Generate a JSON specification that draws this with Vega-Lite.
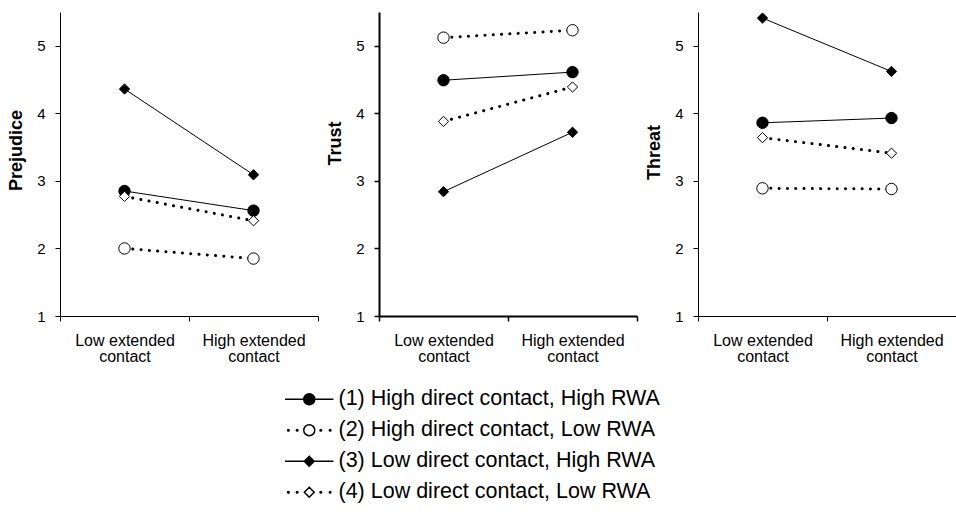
{
  "$schema": "https://vega.github.io/schema/vega-lite/v6.json",
  "padding": {"left": 7, "top": 10, "right": 0, "bottom": 5},
  "config": {
    "font": "Liberation Sans",
    "view": {"stroke": null},
    "axis": {"grid": false, "domainColor": "black", "tickColor": "black", "labelColor": "black", "titleColor": "black"}
  },
  "datasets": {
    "d": [
      {"measure": "Prejudice", "ext": "Low extended contact", "group": "(1) High direct contact, High RWA", "value": 2.85},
      {"measure": "Prejudice", "ext": "High extended contact", "group": "(1) High direct contact, High RWA", "value": 2.56},
      {"measure": "Prejudice", "ext": "Low extended contact", "group": "(2) High direct contact, Low RWA", "value": 2.0},
      {"measure": "Prejudice", "ext": "High extended contact", "group": "(2) High direct contact, Low RWA", "value": 1.85},
      {"measure": "Prejudice", "ext": "Low extended contact", "group": "(3) Low direct contact, High RWA", "value": 4.36},
      {"measure": "Prejudice", "ext": "High extended contact", "group": "(3) Low direct contact, High RWA", "value": 3.09},
      {"measure": "Prejudice", "ext": "Low extended contact", "group": "(4) Low direct contact, Low RWA", "value": 2.77},
      {"measure": "Prejudice", "ext": "High extended contact", "group": "(4) Low direct contact, Low RWA", "value": 2.41},
      {"measure": "Trust", "ext": "Low extended contact", "group": "(1) High direct contact, High RWA", "value": 4.49},
      {"measure": "Trust", "ext": "High extended contact", "group": "(1) High direct contact, High RWA", "value": 4.61},
      {"measure": "Trust", "ext": "Low extended contact", "group": "(2) High direct contact, Low RWA", "value": 5.12},
      {"measure": "Trust", "ext": "High extended contact", "group": "(2) High direct contact, Low RWA", "value": 5.23},
      {"measure": "Trust", "ext": "Low extended contact", "group": "(3) Low direct contact, High RWA", "value": 2.84},
      {"measure": "Trust", "ext": "High extended contact", "group": "(3) Low direct contact, High RWA", "value": 3.72},
      {"measure": "Trust", "ext": "Low extended contact", "group": "(4) Low direct contact, Low RWA", "value": 3.88},
      {"measure": "Trust", "ext": "High extended contact", "group": "(4) Low direct contact, Low RWA", "value": 4.39},
      {"measure": "Threat", "ext": "Low extended contact", "group": "(1) High direct contact, High RWA", "value": 3.86},
      {"measure": "Threat", "ext": "High extended contact", "group": "(1) High direct contact, High RWA", "value": 3.93},
      {"measure": "Threat", "ext": "Low extended contact", "group": "(2) High direct contact, Low RWA", "value": 2.89},
      {"measure": "Threat", "ext": "High extended contact", "group": "(2) High direct contact, Low RWA", "value": 2.88},
      {"measure": "Threat", "ext": "Low extended contact", "group": "(3) Low direct contact, High RWA", "value": 5.41},
      {"measure": "Threat", "ext": "High extended contact", "group": "(3) Low direct contact, High RWA", "value": 4.62},
      {"measure": "Threat", "ext": "Low extended contact", "group": "(4) Low direct contact, Low RWA", "value": 3.64},
      {"measure": "Threat", "ext": "High extended contact", "group": "(4) Low direct contact, Low RWA", "value": 3.41}
    ]
  },
  "data": {"name": "d"},
  "bounds": "flush",
  "spacing": 61,
  "hconcat": [
    {
      "width": 258, "height": 304,
      "transform": [{"filter": "datum.measure == 'Prejudice'"}],
      "encoding": {
        "x": {"field": "ext", "type": "nominal", "sort": ["Low extended contact", "High extended contact"],
          "scale": {"type": "band", "paddingInner": 0, "paddingOuter": 0},
          "axis": {"title": null, "labelAngle": 0, "tickBand": "extent", "tickSize": 5, "labelPadding": 11, "labelFontSize": 16, "labelLineHeight": 16,
            "labelExpr": "datum.label == 'Low extended contact' ? ['Low extended', 'contact'] : datum.label == 'High extended contact' ? ['High extended', 'contact'] : ''"}},
        "y": {"field": "value", "type": "quantitative", "scale": {"domain": [1, 5.5], "nice": false, "zero": false},
          "axis": {"title": "Prejudice", "values": [1, 2, 3, 4, 5], "tickSize": 5, "labelPadding": 10, "labelFontSize": 15, "titleFontSize": 18, "titleFontWeight": "bold", "titlePadding": 11, "titleY": 138}}
      },
      "layer": [
        {"transform": [{"filter": "indexof(datum.group, 'High RWA') >= 0"}],
         "mark": {"type": "line", "color": "black", "strokeWidth": 1}, "encoding": {"detail": {"field": "group"}}},
        {"transform": [{"filter": "indexof(datum.group, 'Low RWA') >= 0"}],
         "mark": {"type": "line", "color": "black", "strokeWidth": 3, "strokeCap": "round", "strokeDash": [0.1, 8.2]}, "encoding": {"detail": {"field": "group"}}},
        {"mark": {"type": "point", "filled": true, "stroke": "black", "strokeWidth": 1, "size": 130, "opacity": 1},
         "encoding": {
           "fill": {"condition": {"test": "indexof(datum.group, 'Low RWA') >= 0", "value": "white"}, "value": "black"},
           "shape": {"condition": {"test": "indexof(datum.group, 'Low direct') >= 0", "value": "M-0.9,0L0,-0.9L0.9,0L0,0.9Z"}, "value": "circle"}
         }},
        {"mark": {"type": "point", "filled": true, "stroke": "black", "strokeWidth": 1, "size": 0, "opacity": 1},
         "encoding": {
           "fill": {"field": "group", "type": "nominal", "scale": {"range": ["black", "white", "black", "white"]}, "legend": null},
           "shape": {"field": "group", "type": "nominal",
             "scale": {"range": [
               "M-4.4,0H-1M1,0H4.4M1,0A1,1,0,1,1,-1,0A1,1,0,1,1,1,0Z",
               "M-3.65,0A0.15,0.15,0,1,1,-3.95,0A0.15,0.15,0,1,1,-3.65,0ZM-2.05,0A0.15,0.15,0,1,1,-2.35,0A0.15,0.15,0,1,1,-2.05,0ZM2.25,0A0.15,0.15,0,1,1,1.95,0A0.15,0.15,0,1,1,2.25,0ZM3.95,0A0.15,0.15,0,1,1,3.65,0A0.15,0.15,0,1,1,3.95,0ZM1,0A1,1,0,1,1,-1,0A1,1,0,1,1,1,0Z",
               "M-4.4,0H-0.9M0.9,0H4.4M-0.9,0L0,-0.9L0.9,0L0,0.9Z",
               "M-3.65,0A0.15,0.15,0,1,1,-3.95,0A0.15,0.15,0,1,1,-3.65,0ZM-2.05,0A0.15,0.15,0,1,1,-2.35,0A0.15,0.15,0,1,1,-2.05,0ZM2.25,0A0.15,0.15,0,1,1,1.95,0A0.15,0.15,0,1,1,2.25,0ZM3.95,0A0.15,0.15,0,1,1,3.65,0A0.15,0.15,0,1,1,3.95,0ZM-0.9,0L0,-0.9L0.9,0L0,0.9Z"
             ]},
             "legend": {"title": null, "orient": "none", "legendX": 238.5, "legendY": 376.5, "padding": 0, "symbolSize": 121, "labelOffset": 18.5, "labelFontSize": 21.5, "labelColor": "black", "rowPadding": 8, "labelLimit": 0}}
         }}
      ]
    },
    {
      "width": 258, "height": 304,
      "transform": [{"filter": "datum.measure == 'Trust'"}],
      "encoding": {
        "x": {"field": "ext", "type": "nominal", "sort": ["Low extended contact", "High extended contact"],
          "scale": {"type": "band", "paddingInner": 0, "paddingOuter": 0},
          "axis": {"title": null, "labelAngle": 0, "tickBand": "extent", "tickSize": 5, "labelPadding": 11, "labelFontSize": 16, "labelLineHeight": 16, "domainWidth": 2, "tickWidth": 1.5,
            "labelExpr": "datum.label == 'Low extended contact' ? ['Low extended', 'contact'] : datum.label == 'High extended contact' ? ['High extended', 'contact'] : ''"}},
        "y": {"field": "value", "type": "quantitative", "scale": {"domain": [1, 5.5], "nice": false, "zero": false},
          "axis": {"title": "Trust", "values": [1, 2, 3, 4, 5], "tickSize": 5, "labelPadding": 10, "labelFontSize": 15, "titleFontSize": 18, "titleFontWeight": "bold", "titlePadding": 11, "titleY": 131, "domainWidth": 2, "tickWidth": 1.5}}
      },
      "layer": [
        {"transform": [{"filter": "indexof(datum.group, 'High RWA') >= 0"}],
         "mark": {"type": "line", "color": "black", "strokeWidth": 1}, "encoding": {"detail": {"field": "group"}}},
        {"transform": [{"filter": "indexof(datum.group, 'Low RWA') >= 0"}],
         "mark": {"type": "line", "color": "black", "strokeWidth": 3, "strokeCap": "round", "strokeDash": [0.1, 8.2]}, "encoding": {"detail": {"field": "group"}}},
        {"mark": {"type": "point", "filled": true, "stroke": "black", "strokeWidth": 1, "size": 130, "opacity": 1},
         "encoding": {
           "fill": {"condition": {"test": "indexof(datum.group, 'Low RWA') >= 0", "value": "white"}, "value": "black"},
           "shape": {"condition": {"test": "indexof(datum.group, 'Low direct') >= 0", "value": "M-0.9,0L0,-0.9L0.9,0L0,0.9Z"}, "value": "circle"}
         }}
      ]
    },
    {
      "width": 258, "height": 304,
      "transform": [{"filter": "datum.measure == 'Threat'"}],
      "encoding": {
        "x": {"field": "ext", "type": "nominal", "sort": ["Low extended contact", "High extended contact"],
          "scale": {"type": "band", "paddingInner": 0, "paddingOuter": 0},
          "axis": {"title": null, "labelAngle": 0, "tickBand": "extent", "tickSize": 5, "labelPadding": 11, "labelFontSize": 16, "labelLineHeight": 16,
            "labelExpr": "datum.label == 'Low extended contact' ? ['Low extended', 'contact'] : datum.label == 'High extended contact' ? ['High extended', 'contact'] : ''"}},
        "y": {"field": "value", "type": "quantitative", "scale": {"domain": [1, 5.5], "nice": false, "zero": false},
          "axis": {"title": "Threat", "values": [1, 2, 3, 4, 5], "tickSize": 5, "labelPadding": 10, "labelFontSize": 15, "titleFontSize": 18, "titleFontWeight": "bold", "titlePadding": 11, "titleY": 140}}
      },
      "layer": [
        {"transform": [{"filter": "indexof(datum.group, 'High RWA') >= 0"}],
         "mark": {"type": "line", "color": "black", "strokeWidth": 1}, "encoding": {"detail": {"field": "group"}}},
        {"transform": [{"filter": "indexof(datum.group, 'Low RWA') >= 0"}],
         "mark": {"type": "line", "color": "black", "strokeWidth": 3, "strokeCap": "round", "strokeDash": [0.1, 8.2]}, "encoding": {"detail": {"field": "group"}}},
        {"mark": {"type": "point", "filled": true, "stroke": "black", "strokeWidth": 1, "size": 130, "opacity": 1},
         "encoding": {
           "fill": {"condition": {"test": "indexof(datum.group, 'Low RWA') >= 0", "value": "white"}, "value": "black"},
           "shape": {"condition": {"test": "indexof(datum.group, 'Low direct') >= 0", "value": "M-0.9,0L0,-0.9L0.9,0L0,0.9Z"}, "value": "circle"}
         }}
      ]
    }
  ]
}
